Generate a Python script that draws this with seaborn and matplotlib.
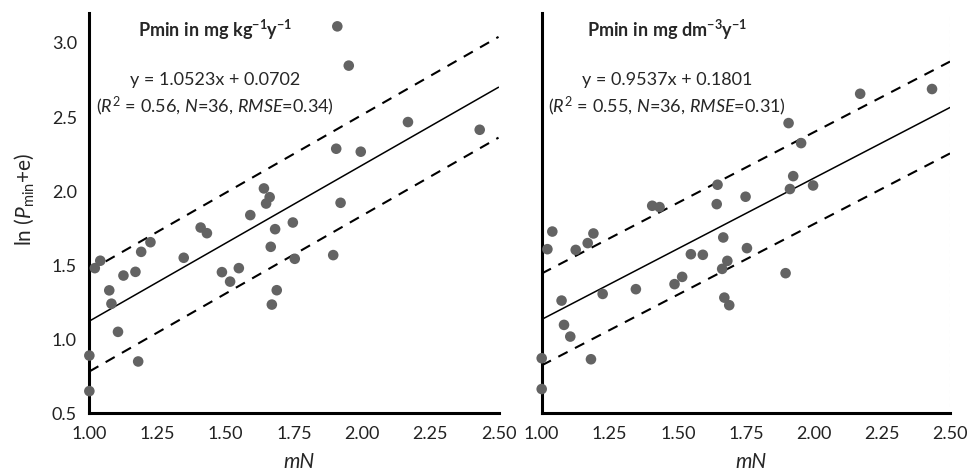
import numpy as np
import pandas as pd
import matplotlib
matplotlib.use("Agg")
import matplotlib.pyplot as plt
import seaborn as sns

# Normalised N index (mN) and log-transformed P mineralisation per site
mN_kg = [1.00, 1.00, 1.02, 1.04, 1.073, 1.081, 1.105, 1.125, 1.169, 1.179, 1.19, 1.224,
         1.346, 1.408, 1.431, 1.486, 1.516, 1.548, 1.590, 1.640, 1.648, 1.661, 1.665, 1.669,
         1.681, 1.687, 1.746, 1.753, 1.894, 1.905, 1.909, 1.921, 1.951, 1.995, 2.168, 2.431]
lnP_kg = [0.89, 0.65, 1.48, 1.53, 1.33, 1.24, 1.05, 1.43, 1.455, 0.85, 1.59, 1.655,
          1.55, 1.754, 1.716, 1.453, 1.389, 1.48, 1.838, 2.018, 1.916, 1.959, 1.624, 1.234,
          1.743, 1.331, 1.788, 1.543, 1.568, 2.286, 3.112, 1.921, 2.847, 2.266, 2.466, 2.414]

mN_dm = [1.00, 1.00, 1.021, 1.039, 1.073, 1.082, 1.105, 1.125, 1.169, 1.181, 1.190, 1.224,
         1.346, 1.406, 1.433, 1.488, 1.516, 1.548, 1.592, 1.643, 1.646, 1.663, 1.667, 1.671,
         1.682, 1.689, 1.749, 1.754, 1.896, 1.907, 1.912, 1.924, 1.953, 1.997, 2.170, 2.434]
lnP_dm = [0.872, 0.664, 1.608, 1.727, 1.261, 1.097, 1.018, 1.603, 1.649, 0.865, 1.714, 1.306,
          1.338, 1.901, 1.892, 1.372, 1.421, 1.574, 1.570, 1.912, 2.043, 1.475, 1.687, 1.281,
          1.529, 1.230, 1.962, 1.615, 1.446, 2.459, 2.014, 2.101, 2.324, 2.038, 2.657, 2.689]

# Fitted models: slope, intercept, R², N, RMSE
fit_kg = dict(slope=1.0523, intercept=0.0702, r2=0.56, n=36, rmse=0.34)
fit_dm = dict(slope=0.9537, intercept=0.1801, r2=0.55, n=36, rmse=0.31)

panel_titles = [r"$\mathbf{Pmin\ in\ mg\ kg^{-1}y^{-1}}$",
                r"$\mathbf{Pmin\ in\ mg\ dm^{-3}y^{-1}}$"]

x_ticks = [1.00, 1.25, 1.50, 1.75, 2.00, 2.25, 2.50]
y_ticks = [0.5, 1.0, 1.5, 2.0, 2.5, 3.0]

sns.set_style("white")
plt.rcParams["font.family"] = ["Lato", "DejaVu Sans"]
plt.rcParams["mathtext.fontset"] = "custom"
plt.rcParams["mathtext.rm"] = "Lato"
plt.rcParams["mathtext.it"] = "Lato:italic"
plt.rcParams["mathtext.bf"] = "Lato:bold"

fig = plt.figure(figsize=(9.68, 4.74), dpi=100)
ax1 = fig.add_axes([0.0923, 0.128, 0.4227, 0.8439])
ax2 = fig.add_axes([0.5596, 0.128, 0.4218, 0.8439])

panels = [(ax1, mN_kg, lnP_kg, fit_kg, panel_titles[0]),
          (ax2, mN_dm, lnP_dm, fit_dm, panel_titles[1])]

for i, (ax, xs, ys, fit, title) in enumerate(panels):
    df = pd.DataFrame({"mN": xs, "lnP": ys})
    sns.scatterplot(data=df, x="mN", y="lnP", ax=ax, color="#636363", s=58,
                    edgecolor="none", linewidth=0, zorder=4, clip_on=False)

    xl = np.array([1.0, 2.5])
    yl = fit["slope"] * xl + fit["intercept"]
    ax.plot(xl, yl, color="black", lw=1.1, zorder=3)
    ax.plot(xl, yl + fit["rmse"], color="black", lw=1.5, ls=(0, (5, 4)), zorder=3)
    ax.plot(xl, yl - fit["rmse"], color="black", lw=1.5, ls=(0, (5, 4)), zorder=3)

    ax.set_xlim(1.0, 2.5)
    ax.set_ylim(0.5, 3.2)
    ax.set_xticks(x_ticks)
    ax.set_xticklabels([f"{t:.2f}" for t in x_ticks])
    ax.set_yticks(y_ticks)
    if i == 0:
        ax.set_yticklabels([f"{t:.1f}" for t in y_ticks])
        ax.set_ylabel(r"ln ($\mathit{P}_{\rm min}$+e)", fontsize=15, va="center")
        ax.yaxis.set_label_coords(-0.160, 0.534)
    else:
        ax.set_yticklabels([])
        ax.set_ylabel("")
    ax.set_xlabel("mN", fontsize=15, style="italic", va="center")
    ax.xaxis.set_label_coords(0.512, -0.122)

    ax.tick_params(axis="both", direction="out", length=5, width=1.8,
                   labelsize=13, color="black", labelcolor="#222222", pad=4)
    for side in ["top", "right"]:
        ax.spines[side].set_visible(False)
    for side in ["left", "bottom"]:
        ax.spines[side].set_linewidth(2.2)
        ax.spines[side].set_color("black")

    ax.text(1.462, 3.09, title, ha="center", va="center", fontsize=13)
    ax.text(1.462, 2.75, f"y = {fit['slope']:.4f}x + {fit['intercept']:.4f}",
            ha="center", va="center", fontsize=13)
    ax.text(1.462, 2.57,
            rf"($\mathit{{R}}^2$ = {fit['r2']:.2f}, $\mathit{{N}}$={fit['n']}, "
            rf"$\mathit{{RMSE}}$={fit['rmse']:.2f})",
            ha="center", va="center", fontsize=13)

ax2.axvline(2.5, color="#e8e8e8", lw=0.8, ls=(0, (3, 3)), zorder=1)

fig.savefig("out.png", dpi=100)
